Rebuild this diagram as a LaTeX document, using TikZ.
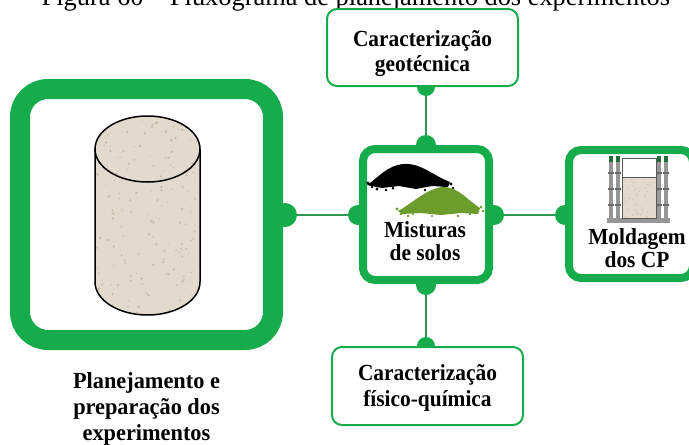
\documentclass[tikz,border=0pt]{standalone}
\usepackage{graphicx}
\usepackage{fontspec}
\setmainfont{Liberation Serif}
\newcommand{\squeezed}[2][0.93]{\scalebox{#1}[1]{#2}}
\begin{document}
\begin{tikzpicture}[x=1pt,y=-1pt,
  every node/.style={inner sep=0pt, outer sep=0pt},
  label line/.style={anchor=base, font=\bfseries\fontsize{23}{26}\selectfont},
  thickframe/.style={draw=leaf, fill=white, line width=20pt, rounded corners=28pt},
  midframe/.style={draw=leaf, fill=white, line width=8pt, rounded corners=12pt},
  thinframe/.style={draw=leaf, fill=white, line width=2pt, rounded corners=10pt},
  dot/.style={circle, fill=leaf, minimum size=#1},
  dot/.default=20pt,
  link/.style={draw=linkgreen, line width=1.2pt}]
\definecolor{leaf}{RGB}{22,172,76}
\definecolor{linkgreen}{RGB}{45,150,85}
\definecolor{sand}{RGB}{226,219,205}
\definecolor{grit}{RGB}{200,190,174}
\definecolor{moss}{RGB}{108,156,44}
\definecolor{steel}{RGB}{150,150,150}
\definecolor{capgreen}{RGB}{30,110,60}

\useasboundingbox (0,0) rectangle (689,445);
\begin{scope}
\clip (0,0) rectangle (689,445);

% caption (only its lower part lies inside the frame)
\node[anchor=base east, font=\fontsize{26.4}{30}\selectfont] (caption) at (670,5)
  {Figura 60 – Fluxograma de planejamento dos experimentos};

% connection points
\node[dot=24pt] (plan-r) at (285,215) {};
\node[dot] (mix-l) at (358,215) {};
\node[dot] (mix-r) at (494,215) {};
\node[dot] (mix-t) at (426,145) {};
\node[dot] (mix-b) at (426,285) {};
\node[dot=18pt] (geo-b) at (426,87) {};
\node[dot=18pt] (chem-t) at (426,346) {};
\node[dot] (mold-l) at (565,215) {};

% connectors
\draw[link] (plan-r) -- (mix-l);
\draw[link] (mix-r) -- (mold-l);
\draw[link] (geo-b) -- (mix-t);
\draw[link] (mix-b) -- (chem-t);

% boxes
\node[thickframe, minimum width=253pt, minimum height=251pt] (plan) at (146.5,214.5) {};
\node[midframe, minimum width=126pt, minimum height=131pt] (mix) at (426,214.5) {};
\node[midframe, minimum width=124pt, minimum height=128pt] (mold) at (631,214) {};
\node[thinframe, minimum width=191pt, minimum height=77pt] (geo) at (422.5,47.5) {};
\node[thinframe, minimum width=191pt, minimum height=78pt] (chem) at (427.5,386) {};

% box texts, one node per line
\node[label line] (geo-1) at (422.5,46) {\squeezed{Caracterização}};
\node[label line] (geo-2) at (422.5,71) {\squeezed{geotécnica}};
\node[label line] (chem-1) at (427.5,380) {\squeezed{Caracterização}};
\node[label line] (chem-2) at (427.5,406) {\squeezed{físico-química}};
\node[label line] (mix-1) at (425,237) {\squeezed{Misturas}};
\node[label line] (mix-2) at (425,260) {\squeezed{de solos}};
\node[label line] (mold-1) at (637,244) {\squeezed{Moldagem}};
\node[label line] (mold-2) at (637,267) {\squeezed{dos CP}};
\node[label line] (plan-1) at (146.5,388) {\squeezed[0.97]{Planejamento e}};
\node[label line] (plan-2) at (146.5,414) {\squeezed[0.97]{preparação dos}};
\node[label line] (plan-3) at (146.5,440) {\squeezed[0.97]{experimentos}};

% soil specimen (cylinder)
\begin{scope}
  \clip (95,149) -- (95,282) arc[start angle=180, end angle=360, x radius=52.5pt, y radius=33pt]
        -- (200,149) arc[start angle=0, end angle=180, x radius=52.5pt, y radius=33pt] -- cycle;
  \fill[sand] (90,100) rectangle (205,320);
  \pgfmathsetseed{17}
  \foreach \i in {1,...,170} {
    \pgfmathsetmacro{\px}{95+105*rnd}
    \pgfmathsetmacro{\py}{118+195*rnd}
    \pgfmathsetmacro{\pr}{0.5+0.9*rnd}
    \fill[grit] (\px,\py) circle[radius=\pr pt];
  }
\end{scope}
\draw[line width=1.5pt] (95,149) -- (95,282) arc[start angle=180, end angle=360, x radius=52.5pt, y radius=33pt] -- (200,149);
\draw[line width=1.5pt] (147.5,149) ellipse[x radius=52.5pt, y radius=33pt];

% soil heaps
\fill[black] (367,185) .. controls (377,179) and (387,165) .. (404,164)
  .. controls (421,163) and (432,175) .. (450,182) -- (448,187) -- (432,186)
  -- (416,189) -- (399,186) -- (382,188) -- cycle;
\foreach \a/\b/\r in {368/183/1.7, 372/187/1.4, 377/189/1.6, 386/190/1.3, 393/188/1.5,
                   438/189/1.5, 444/187/1.7, 451/184/1.6, 453/188/1.3, 446/191/1.2, 425/190/1.3} {
  \fill[black] (\a,\b) circle[radius=\r pt];
}
\fill[moss] (398,211) .. controls (410,205) and (427,188) .. (443,187)
  .. controls (459,187) and (468,201) .. (480,208) -- (478,214) -- (461,213)
  -- (441,215) -- (421,213) -- (402,214) -- cycle;
\foreach \a/\b/\r in {397/209/1.6, 401/214/1.4, 408/216/1.3, 413/214/1.2, 470/214/1.4,
                   476/212/1.6, 481/207/1.5, 483/211/1.3, 458/216/1.3, 432/216/1.2} {
  \fill[moss] (\a,\b) circle[radius=\r pt];
}

% specimen mould
\fill[steel] (607,218) rectangle (670,223);
\foreach \x in {609,616,657,664} {
  \fill[steel] (\x,158) rectangle (\x+3.5,218);
  \fill[capgreen] (\x,156) rectangle (\x+3.5,162);
  \foreach \y in {172,188,204} { \fill[steel!70!black] (\x-1,\y) rectangle (\x+4.5,\y+2); }
}
\fill[sand] (622,177) rectangle (656,218);
\pgfmathsetseed{5}
\foreach \i in {1,...,40} {
  \pgfmathsetmacro{\px}{623+32*rnd}
  \pgfmathsetmacro{\py}{178+39*rnd}
  \fill[grit] (\px,\py) circle[radius=0.6pt];
}
\draw[steel!60!black, line width=0.7pt] (622,158) rectangle (656,218);
\draw[steel!60!black, line width=0.7pt] (622,177) -- (656,177);
\end{scope}
\end{tikzpicture}
\end{document}
